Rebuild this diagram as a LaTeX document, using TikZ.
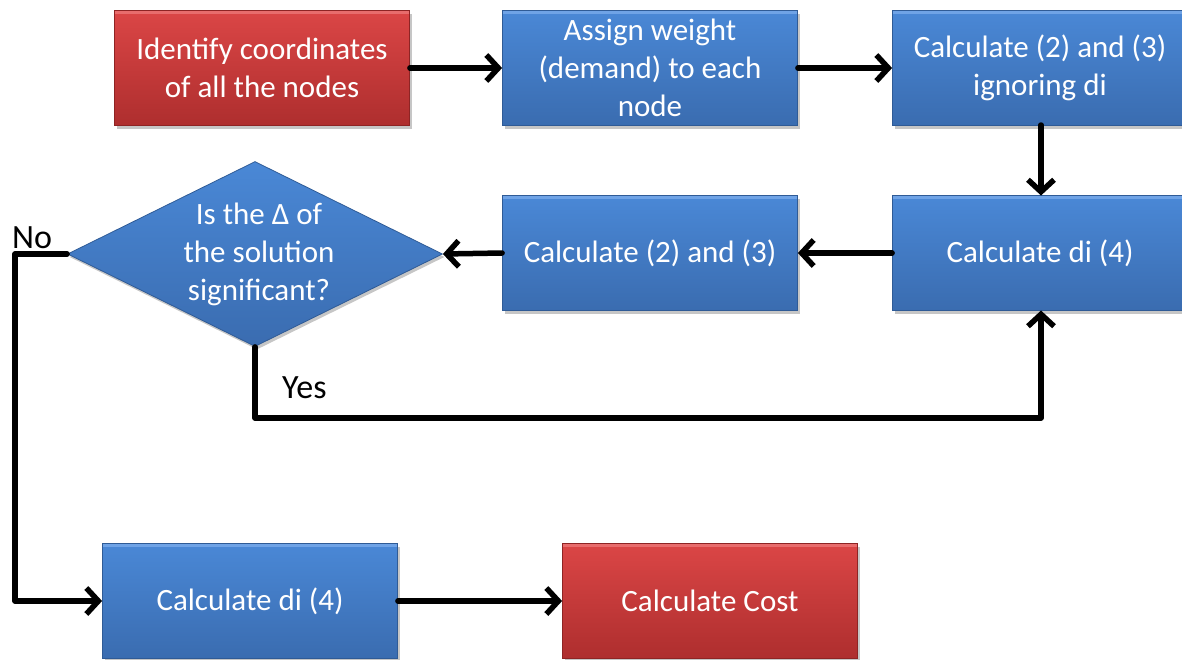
\documentclass[tikz,border=0pt]{standalone}
\usepackage{fontspec}
\setmainfont{Carlito}
\usetikzlibrary{shapes.geometric,shadows,arrows.meta}

\definecolor{bluetop}{HTML}{4A88D6}
\definecolor{bluebot}{HTML}{3A6CB0}
\definecolor{blueedge}{HTML}{2F5B96}
\definecolor{bluelight}{HTML}{6FA3E6}
\definecolor{redtop}{HTML}{DB4646}
\definecolor{redbot}{HTML}{AE2E2E}
\definecolor{rededge}{HTML}{8E2424}
\definecolor{redlight}{HTML}{E86C6C}

\tikzset{
  boxtext/.style={align=center, text=white, font=\fontsize{31}{38}\selectfont},
  procbox/.style={rectangle, minimum width=295pt, minimum height=115pt,
    inner sep=0pt, boxtext,
    draw=blueedge, line width=0.8pt, top color=bluetop, bottom color=bluebot,
    drop shadow={shadow xshift=2pt, shadow yshift=-3pt, opacity=0.45},
    path picture={
      \draw[bluelight, line width=3pt]
        ([yshift=-2pt]path picture bounding box.north west) --
        ([yshift=-2pt]path picture bounding box.north east);}},
  termbox/.style={procbox, draw=rededge, top color=redtop, bottom color=redbot,
    path picture={
      \draw[redlight, line width=3pt]
        ([yshift=-2pt]path picture bounding box.north west) --
        ([yshift=-2pt]path picture bounding box.north east);}},
  decision/.style={diamond, minimum width=375pt, minimum height=185pt,
    inner sep=0pt, draw=blueedge, line width=0.8pt,
    top color=bluetop, bottom color=bluebot,
    drop shadow={shadow xshift=2pt, shadow yshift=-3pt, opacity=0.45}},
  flow/.style={line width=5.5pt, line cap=round, line join=round,
    -{Straight Barb[length=12pt, width=26pt, line width=5.5pt]}},
  tag/.style={font=\fontsize{34}{38}\selectfont, text=black, inner sep=0pt}
}

\begin{document}
\begin{tikzpicture}[x=1pt, y=-1pt]
  \useasboundingbox (0,0) rectangle (1182,659);

  % top row
  \node[termbox] (ident) at (262,68) {Identify coordinates\\of all the nodes};
  \node[procbox] (assign) at (650,68) {Assign weight\\(demand) to each\\node};
  \node[procbox] (calcA) at (1040,68) {Calculate (2) and (3)\\ignoring di};

  % middle row
  \node[procbox] (di1) at (1040,253) {Calculate di (4)};
  \node[procbox] (calcB) at (650,253) {Calculate (2) and (3)};
  \node[decision] (delta) at (255,254) {};
  \node[boxtext] (deltatext) at (259,254) {Is the Δ of\\the solution\\significant?};

  % bottom row
  \node[procbox] (di2) at (250,601) {Calculate di (4)};
  \node[termbox] (cost) at (710,601) {Calculate Cost};

  % turning points of the loops
  \coordinate (yesdown) at (255,418);
  \coordinate (yesright) at (1041,418);
  \coordinate (noleft) at (15,254);
  \coordinate (nodown) at (15,601);

  % connectors
  \draw[flow] (ident.east) -- (assign.west);
  \draw[flow] (assign.east) -- (calcA.west);
  \draw[flow] (1041,125) -- (1041,195.5);
  \draw[flow] (di1.west) -- (calcB.east);
  \draw[flow] (calcB.west) -- (delta.east);
  \draw[flow] (delta.south) -- (yesdown) -- (yesright) -- (1041,310.5);
  \draw[flow] (delta.west) -- (noleft) -- (nodown) -- (di2.west);
  \draw[flow] (di2.east) -- (cost.west);

  % branch labels
  \node[tag, anchor=west] (yes) at (282,388) {Yes};
  \node[tag, anchor=west] (no) at (12,238) {No};
\end{tikzpicture}
\end{document}
